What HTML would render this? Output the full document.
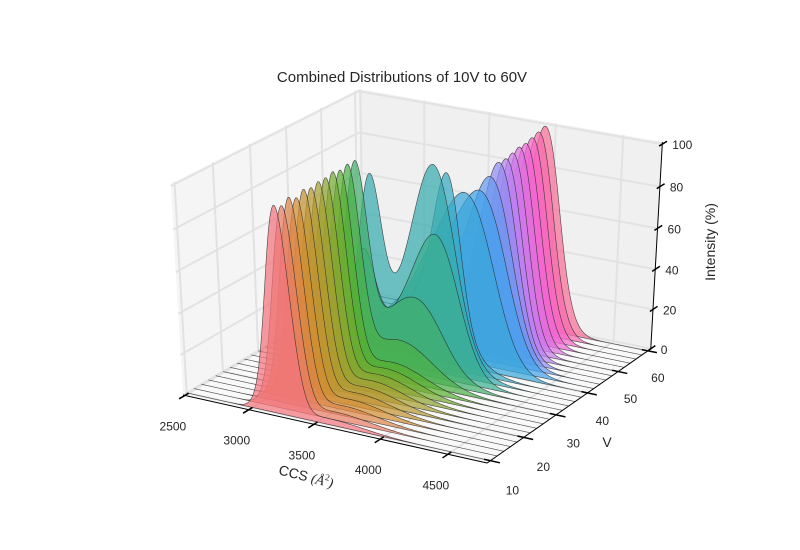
<!DOCTYPE html>
<html><head><meta charset="utf-8"><style>
html,body{margin:0;padding:0;background:#fff;}
svg{display:block;font-family:"Liberation Sans",sans-serif;}
</style></head><body>
<svg id="chart" width="800" height="550" viewBox="0 0 800 550" xmlns="http://www.w3.org/2000/svg">
<text x="402" y="82" text-anchor="middle" font-size="15" fill="#262626">Combined Distributions of 10V to 60V</text>
<g id="panes"></g>
<g id="grid"></g>
<g id="series"></g>
<g id="axes"></g>
<text x="305" y="481" font-size="14" fill="#262626" transform="rotate(14 305 481)" text-anchor="middle">CCS <tspan font-family="Liberation Serif,serif" font-style="italic">(Å</tspan><tspan font-family="Liberation Serif,serif" font-size="9" dy="-6">2</tspan><tspan font-family="Liberation Serif,serif" font-style="italic" dy="6">)</tspan></text>
<text x="607" y="447" font-size="14" fill="#262626" text-anchor="middle">V</text>
<text x="715" y="242" font-size="14" fill="#262626" text-anchor="middle" transform="rotate(-90 715 242)">Intensity (%)</text>
</svg>
<script>
const voltages   = [10,12,14,16,18,20,22,24,26,28,30,32,34,36,38,40,42,44,46,48,50,52,54,56,58,60];
const leftAmp    = [99,97,99,97,99,98,99,99,100,99,100,100,70,90,12,8,5,3,2,0,0,0,0,0,0,0];
const midAmp     = [3,4,5,6,7,8,9,10,11,12,22,38,45,45,50,60,60,40,20,10,8,8,8,8,8,8];
const rightAmp   = [0,0,0,0,0,0,0,0,0,0,0,10,70,75,95,85,85,90,95,95,96,97,97,98,99,100];
const rightCenter= [3750,3750,3750,3750,3750,3750,3750,3750,3750,3750,3750,3750,3800,3720,3760,3900,3950,3950,3950,3950,3950,3950,3950,3950,3950,3950];
const rightWidth = [150,150,150,150,150,150,150,150,150,150,150,150,160,150,100,190,180,160,140,130,125,125,125,125,125,125];
const xTicks = [2500,3000,3500,4000,4500];
const yTicks = [10,20,30,40,50,60];
const zTicks = [0,20,40,60,80,100];
const LEFT_C = 3220, LEFT_S = 90, MID_C = 3600, MID_S = 250;

const XMIN=2485, XMAX=4785, YMIN=9, YMAX=61, ZMIN=0, ZMAX=101;
const NS="http://www.w3.org/2000/svg";
const el=30*Math.PI/180, az=-60*Math.PI/180, dist=10;
const E=[0.5+Math.cos(az)*Math.cos(el)*dist,0.5+Math.sin(az)*Math.cos(el)*dist,0.5+Math.sin(el)*dist];
function sub(a,b){return [a[0]-b[0],a[1]-b[1],a[2]-b[2]];}
function dot(a,b){return a[0]*b[0]+a[1]*b[1]+a[2]*b[2];}
function cross(a,b){return [a[1]*b[2]-a[2]*b[1],a[2]*b[0]-a[0]*b[2],a[0]*b[1]-a[1]*b[0]];}
function norm(a){const l=Math.hypot(a[0],a[1],a[2]);return [a[0]/l,a[1]/l,a[2]/l];}
const nV=norm(sub(E,[0.5,0.5,0.5])), uV=norm(cross([0,0,1],nV)), vV=cross(nV,uV);
function rawProj(p){const q=sub(p,E);const Z=-dot(nV,q);return [dot(uV,q)/Z,dot(vV,q)/Z];}
const pA=rawProj([0,0,0]), pB=rawProj([1,0,0]), pT=rawProj([1,1,1]);
const kx=(487-183)/(pB[0]-pA[0]), ox=183-kx*pA[0];
const ky=(395-142)/(pT[1]-pA[1]);
function P(x,y,z){const r=rawProj([(x-XMIN)/(XMAX-XMIN),(y-YMIN)/(YMAX-YMIN),(z-ZMIN)/(ZMAX-ZMIN)]);return [kx*r[0]+ox, 395-ky*(r[1]-pA[1])];}
function mk(tag,attrs,parent){const e=document.createElementNS(NS,tag);for(const k in attrs)e.setAttribute(k,attrs[k]);parent.appendChild(e);return e;}
function pts(arr){return arr.map(p=>p[0].toFixed(2)+","+p[1].toFixed(2)).join(" ");}

const panes=document.getElementById('panes'), grid=document.getElementById('grid'), ser=document.getElementById('series'), axes=document.getElementById('axes');
let pg=mk('polygon',{points:pts([P(XMIN,YMIN,0),P(XMAX,YMIN,0),P(XMAX,YMAX,0),P(XMIN,YMAX,0)]),fill:'#f9f9f9'},panes);

pg=mk('polygon',{points:pts([P(XMIN,YMIN,0),P(XMIN,YMAX,0),P(XMIN,YMAX,ZMAX),P(XMIN,YMIN,ZMAX)]),fill:'#f5f5f5'},panes);

pg=mk('polygon',{points:pts([P(XMIN,YMAX,0),P(XMAX,YMAX,0),P(XMAX,YMAX,ZMAX),P(XMIN,YMAX,ZMAX)]),fill:'#f0f0f0'},panes);

function gl(a,b,name){const l=mk('line',{x1:a[0],y1:a[1],x2:b[0],y2:b[1],stroke:'#e2e2e2','stroke-width':2},grid);}
xTicks.forEach(t=>{gl(P(t,YMAX,0),P(t,YMAX,ZMAX),'grid-x-back');gl(P(t,YMIN,0),P(t,YMAX,0),'grid-x-floor');});
yTicks.forEach(t=>{gl(P(XMIN,t,0),P(XMIN,t,ZMAX),'grid-y-left');gl(P(XMIN,t,0),P(XMAX,t,0),'grid-y-floor');});
zTicks.forEach(t=>{gl(P(XMIN,YMIN,t),P(XMIN,YMAX,t),'grid-z-left');gl(P(XMIN,YMAX,t),P(XMAX,YMAX,t),'grid-z-back');});

const anchors=[[247,113,137],[213,140,50],[164,160,49],[80,177,49],[54,173,164],[59,163,236],[187,131,244],[245,100,212]];
function colorAt(i,n){const f=(i+0.4)/n*anchors.length;const k=Math.floor(f)%anchors.length, k2=(k+1)%anchors.length, t=f-Math.floor(f);
 const a=anchors[k],b=anchors[k2];return 'rgb('+[0,1,2].map(j=>Math.round(a[j]+(b[j]-a[j])*t)).join(',')+')';}
function g(x,c,s){return Math.exp(-(x-c)*(x-c)/(2*s*s));}
for(let i=voltages.length-1;i>=0;i--){
  const V=voltages[i];
  const xs=[], zs=[];
  for(let x=XMIN;x<=XMAX;x+=10){
    xs.push(x);
    zs.push(leftAmp[i]*g(x,LEFT_C,LEFT_S)+midAmp[i]*g(x,MID_C,MID_S)+rightAmp[i]*g(x,rightCenter[i],rightWidth[i]));
  }
  const mx=Math.max(...zs), target=Math.max(leftAmp[i],rightAmp[i],V===36?100:0);
  const sc=mx>target?target/mx:1;
  const arr=[P(XMIN,V,0)];
  xs.forEach((x,j)=>arr.push(P(x,V,zs[j]*sc)));
  arr.push(P(XMAX,V,0));
  const poly=mk('polygon',{points:pts(arr),fill:colorAt(i,voltages.length),'fill-opacity':0.72,stroke:'#222','stroke-width':0.6,'stroke-opacity':0.8},ser);
  
  
}
function al(a,b,name,w){const l=mk('line',{x1:a[0],y1:a[1],x2:b[0],y2:b[1],stroke:'#000','stroke-width':w||1},axes);}
function tx(p,s,name,anchor){const t=mk('text',{x:p[0],y:p[1],'font-size':12,fill:'#262626','text-anchor':anchor||'middle'},axes);t.textContent=s;}
al(P(XMIN,YMIN,0),P(XMAX,YMIN,0),'x-axis-line');
al(P(XMAX,YMIN,0),P(XMAX,YMAX,0),'y-axis-line');
al(P(XMAX,YMAX,0),P(XMAX,YMAX,ZMAX),'z-axis-line');
const dy=(YMAX-YMIN), dx=(XMAX-XMIN);
xTicks.forEach(t=>{al(P(t,YMIN+0.02*dy,0),P(t,YMIN-0.03*dy,0),'x-tick',1.5);const p=P(t,YMIN,0);tx([p[0]-12,p[1]+35],String(t),'x-tick-label');});
yTicks.forEach(t=>{const f=(t-10)/50;al(P(XMAX-0.02*dx,t,0),P(XMAX+0.03*dx,t,0),'y-tick',1.5);const p=P(XMAX,t,0);tx([p[0]+22-12*f,p[1]+34-3*f],String(t),'y-tick-label');});
zTicks.forEach(t=>{al(P(XMAX,YMAX-0.02*dy,t),P(XMAX,YMAX+0.03*dy,t),'z-tick',1.5);const p=P(XMAX,YMAX,t);tx([p[0]+10,p[1]+5],String(t),'z-tick-label','start');});
</script>
</body></html>
